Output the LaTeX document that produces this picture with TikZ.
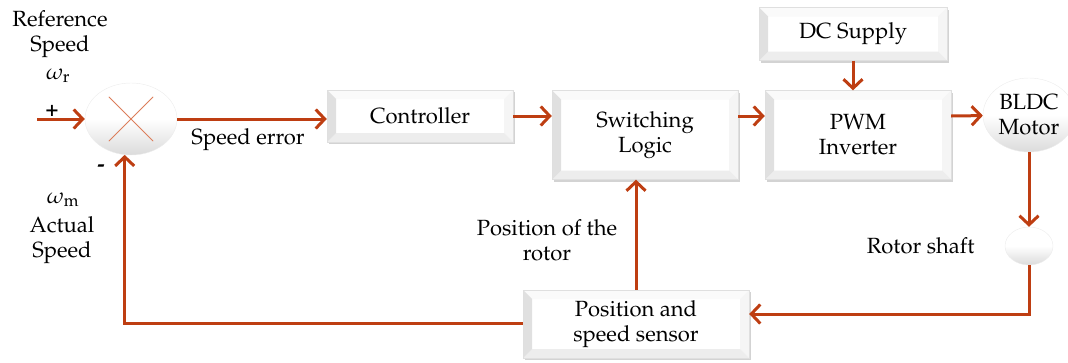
\documentclass[tikz,border=0pt]{standalone}
\usepackage[T1]{fontenc}
\usepackage{mathpazo}
\usetikzlibrary{arrows.meta,shapes.geometric,shadows}
\definecolor{rust}{RGB}{190,62,18}
\definecolor{lightrust}{RGB}{220,125,90}
\begin{document}
\begin{tikzpicture}[
            x=1pt, y=-1pt,
            every node/.style={font=\fontsize{22}{25}\selectfont, align=center},
            blk/.style={draw=gray!25, fill=white, inner sep=0pt,
                    drop shadow={shadow xshift=1.5pt, shadow yshift=-2pt, opacity=0.35},
                    path picture={
                            \coordinate (bnw) at (path picture bounding box.north west);
                            \coordinate (bne) at (path picture bounding box.north east);
                            \coordinate (bsw) at (path picture bounding box.south west);
                            \coordinate (bse) at (path picture bounding box.south east);
                            \fill[gray!4] (bnw) -- ([shift={(9pt,-9pt)}]bnw) -- ([shift={(-9pt,-9pt)}]bne) -- (bne) -- cycle;
                            \fill[gray!8] (bne) -- ([shift={(-9pt,-9pt)}]bne) -- ([shift={(-9pt,9pt)}]bse) -- (bse) -- cycle;
                            \fill[gray!14] (bsw) -- ([shift={(9pt,9pt)}]bsw) -- ([shift={(-9pt,9pt)}]bse) -- (bse) -- cycle;
                            \fill[gray!24] (bnw) -- ([shift={(9pt,-9pt)}]bnw) -- ([shift={(9pt,9pt)}]bsw) -- (bsw) -- cycle;
                        }},
            ball/.style={ellipse, draw=gray!15, top color=white, bottom color=gray!28, middle color=white, inner sep=0pt},
            flow/.style={draw=rust, line width=3pt, -{Straight Barb[length=9pt, width=19pt]}},
            cross/.style={draw=lightrust, line width=1pt, shorten <=9pt, shorten >=9pt}
        ]
        \useasboundingbox (0,0) rectangle (1068,362);

        % 方框
        \node[blk, minimum width=186pt, minimum height=52pt] (ctrl) at (420,116) {Controller};
        \node[blk, minimum width=186pt, minimum height=89pt] (logic) at (645,135) {Switching\\Logic};
        \node[blk, minimum width=186pt, minimum height=89pt] (pwm) at (858,135) {PWM\\Inverter};
        \node[blk, minimum width=188pt, minimum height=53pt] (dc) at (853,34) {DC Supply};
        \node[blk, minimum width=226pt, minimum height=68pt] (sensor) at (636,324) {Position and\\speed sensor};

        % 圆
        \node[ball, minimum width=92pt, minimum height=72pt] (sum) at (131,119) {};
        \draw[cross] (sum.45) -- (sum.225);
        \draw[cross] (sum.135) -- (sum.315);
        \node[ball, minimum width=92pt, minimum height=74pt] (bldc) at (1029,115) {BLDC\\Motor};
        \node[ball, minimum width=48pt, minimum height=38pt] (shaft) at (1029,246) {};

        % 箭头
        \coordinate (in) at (37,119);
        \draw[flow] (in) -- (sum);
        \draw[flow] (sum) -- (sum -| ctrl.west);
        \draw[flow] (ctrl) -- (logic.west |- ctrl);
        \draw[flow] (logic.east |- ctrl) -- (pwm.west |- ctrl);
        \draw[flow] (pwm.east |- ctrl) -- (bldc);
        \draw[flow] (dc) -- (dc |- pwm.north);
        \draw[flow] (bldc) -- (shaft);
        \draw[flow] (shaft) |- ([yshift=10pt]sensor.east);
        \draw[flow] (sensor) -- (sensor |- logic.south);
        \draw[flow] ([yshift=1pt]sensor.west) -| (sum.260);

        % 标签
        \node (reflbl) at (60,34) {Reference\\Speed};
        \node (wr) at (58,76) {$\omega_{\mathrm{r}}$};
        \node (wm) at (63,200) {$\omega_{\mathrm{m}}$};
        \node (actlbl) at (62,240) {Actual\\Speed};
        \node (plus) at (52,111) {\textbf{+}};
        \node (minus) at (101,168) {\textbf{-}};
        \node (errlbl) at (248,140) {Speed error};
        \node (poslbl) at (547,240) {Position of the\\rotor};
        \node[anchor=east] (shaftlbl) at (978,246) {Rotor shaft};
    \end{tikzpicture}
\end{document}
